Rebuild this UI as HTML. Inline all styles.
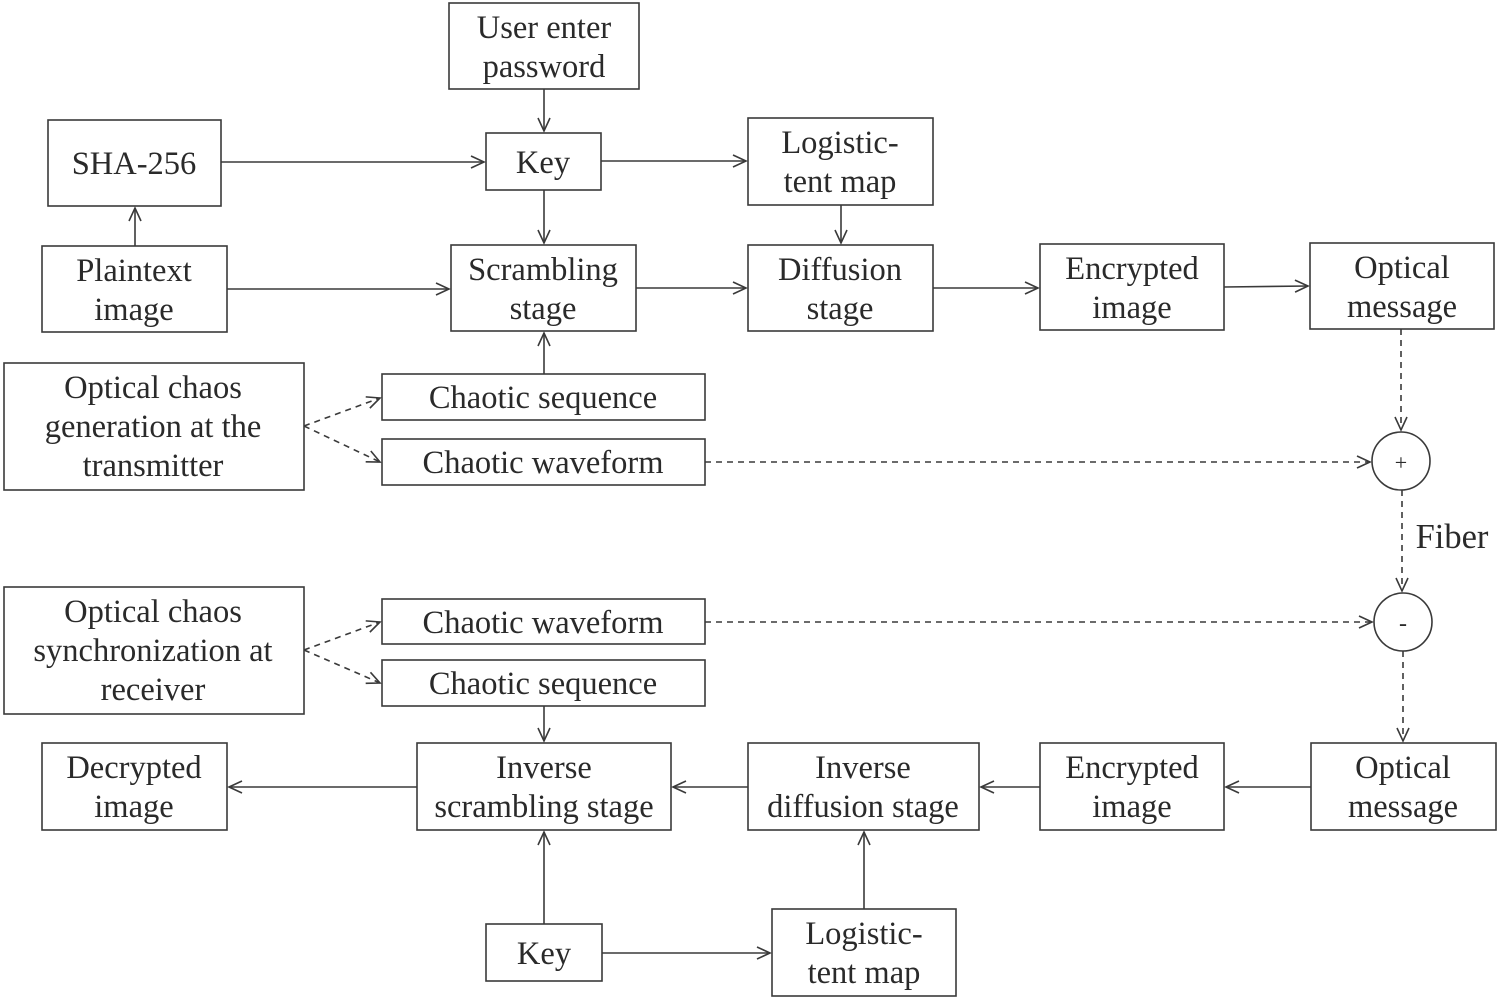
<!DOCTYPE html>
<html><head><meta charset="utf-8"><style>
html,body{margin:0;padding:0;background:#fff;}
svg{display:block;}
text{font-family:"Liberation Serif",serif;font-size:32.5px;fill:#2a2a2a;text-anchor:middle;}
.b{fill:#fff;stroke:#3a3a3a;stroke-width:1.6;}
.l{stroke:#3a3a3a;stroke-width:1.6;fill:none;}
.d{stroke:#3a3a3a;stroke-width:1.6;fill:none;stroke-dasharray:6,5;}
</style></head><body>
<svg width="1500" height="1000" viewBox="0 0 1500 1000" xmlns="http://www.w3.org/2000/svg">
<defs><marker id="a" markerWidth="16" markerHeight="14" refX="14" refY="7" orient="auto" markerUnits="userSpaceOnUse"><path d="M1,1 L14,7 L1,13" fill="none" stroke="#3a3a3a" stroke-width="1.6"/></marker></defs>

<line class="l" x1="544" y1="89" x2="544" y2="131" marker-end="url(#a)"/>
<line class="l" x1="221" y1="162" x2="484" y2="162" marker-end="url(#a)"/>
<line class="l" x1="601" y1="161" x2="746" y2="161" marker-end="url(#a)"/>
<line class="l" x1="544" y1="190" x2="544" y2="243" marker-end="url(#a)"/>
<line class="l" x1="841" y1="205" x2="841" y2="243" marker-end="url(#a)"/>
<line class="l" x1="135" y1="246" x2="135" y2="208" marker-end="url(#a)"/>
<line class="l" x1="227" y1="289" x2="449" y2="289" marker-end="url(#a)"/>
<line class="l" x1="636" y1="288" x2="746" y2="288" marker-end="url(#a)"/>
<line class="l" x1="933" y1="288" x2="1038" y2="288" marker-end="url(#a)"/>
<line class="l" x1="1224" y1="287" x2="1308" y2="286" marker-end="url(#a)"/>
<line class="l" x1="544" y1="374" x2="544" y2="333" marker-end="url(#a)"/>
<line class="d" x1="304" y1="426" x2="380" y2="398" marker-end="url(#a)"/>
<line class="d" x1="304" y1="426" x2="380" y2="462" marker-end="url(#a)"/>
<line class="d" x1="705" y1="462" x2="1370" y2="462" marker-end="url(#a)"/>
<line class="d" x1="1401" y1="329" x2="1401" y2="430" marker-end="url(#a)"/>
<line class="d" x1="1402" y1="490" x2="1402" y2="591" marker-end="url(#a)"/>
<line class="d" x1="304" y1="650" x2="380" y2="622" marker-end="url(#a)"/>
<line class="d" x1="304" y1="650" x2="380" y2="683" marker-end="url(#a)"/>
<line class="d" x1="705" y1="622" x2="1372" y2="622" marker-end="url(#a)"/>
<line class="d" x1="1403" y1="651" x2="1403" y2="741" marker-end="url(#a)"/>
<line class="l" x1="544" y1="706" x2="544" y2="741" marker-end="url(#a)"/>
<line class="l" x1="417" y1="787" x2="229" y2="787" marker-end="url(#a)"/>
<line class="l" x1="748" y1="787" x2="673" y2="787" marker-end="url(#a)"/>
<line class="l" x1="1040" y1="787" x2="981" y2="787" marker-end="url(#a)"/>
<line class="l" x1="1311" y1="787" x2="1226" y2="787" marker-end="url(#a)"/>
<line class="l" x1="544" y1="924" x2="544" y2="832" marker-end="url(#a)"/>
<line class="l" x1="864" y1="909" x2="864" y2="832" marker-end="url(#a)"/>
<line class="l" x1="602" y1="953" x2="770" y2="953" marker-end="url(#a)"/>

<rect class="b" x="449" y="3" width="190" height="86"/>
<text x="544" y="38">User enter</text><text x="544" y="77">password</text>
<rect class="b" x="48" y="120" width="173" height="86"/>
<text x="134" y="174">SHA-256</text>
<rect class="b" x="486" y="133" width="115" height="57"/>
<text x="543" y="173">Key</text>
<rect class="b" x="748" y="118" width="185" height="87"/>
<text x="840" y="153">Logistic-</text><text x="840" y="192">tent map</text>
<rect class="b" x="42" y="246" width="185" height="86"/>
<text x="134" y="281">Plaintext</text><text x="134" y="320">image</text>
<rect class="b" x="451" y="245" width="185" height="86"/>
<text x="543" y="280">Scrambling</text><text x="543" y="319">stage</text>
<rect class="b" x="748" y="245" width="185" height="86"/>
<text x="840" y="280">Diffusion</text><text x="840" y="319">stage</text>
<rect class="b" x="1040" y="244" width="184" height="86"/>
<text x="1132" y="279">Encrypted</text><text x="1132" y="318">image</text>
<rect class="b" x="1310" y="243" width="184" height="86"/>
<text x="1402" y="278">Optical</text><text x="1402" y="317">message</text>
<rect class="b" x="4" y="363" width="300" height="127"/>
<text x="153" y="398">Optical chaos</text><text x="153" y="437">generation at the</text><text x="153" y="476">transmitter</text>
<rect class="b" x="382" y="374" width="323" height="46"/>
<text x="543" y="408">Chaotic sequence</text>
<rect class="b" x="382" y="439" width="323" height="46"/>
<text x="543" y="473">Chaotic waveform</text>
<circle class="b" cx="1401" cy="461" r="29"/>
<text x="1401" y="470" style="font-size:22px">+</text>
<text x="1452" y="548" style="font-size:34.5px">Fiber</text>
<circle class="b" cx="1403" cy="622" r="29"/>
<text x="1403" y="631" style="font-size:24px">-</text>
<rect class="b" x="4" y="587" width="300" height="127"/>
<text x="153" y="622">Optical chaos</text><text x="153" y="661">synchronization at</text><text x="153" y="700">receiver</text>
<rect class="b" x="382" y="599" width="323" height="45"/>
<text x="543" y="633">Chaotic waveform</text>
<rect class="b" x="382" y="660" width="323" height="46"/>
<text x="543" y="694">Chaotic sequence</text>
<rect class="b" x="42" y="743" width="185" height="87"/>
<text x="134" y="778">Decrypted</text><text x="134" y="817">image</text>
<rect class="b" x="417" y="743" width="254" height="87"/>
<text x="544" y="778">Inverse</text><text x="544" y="817">scrambling stage</text>
<rect class="b" x="748" y="743" width="231" height="87"/>
<text x="863" y="778">Inverse</text><text x="863" y="817">diffusion stage</text>
<rect class="b" x="1040" y="743" width="184" height="87"/>
<text x="1132" y="778">Encrypted</text><text x="1132" y="817">image</text>
<rect class="b" x="1311" y="743" width="185" height="87"/>
<text x="1403" y="778">Optical</text><text x="1403" y="817">message</text>
<rect class="b" x="486" y="924" width="116" height="57"/>
<text x="544" y="964">Key</text>
<rect class="b" x="772" y="909" width="184" height="87"/>
<text x="864" y="944">Logistic-</text><text x="864" y="983">tent map</text>
</svg>
</body></html>
